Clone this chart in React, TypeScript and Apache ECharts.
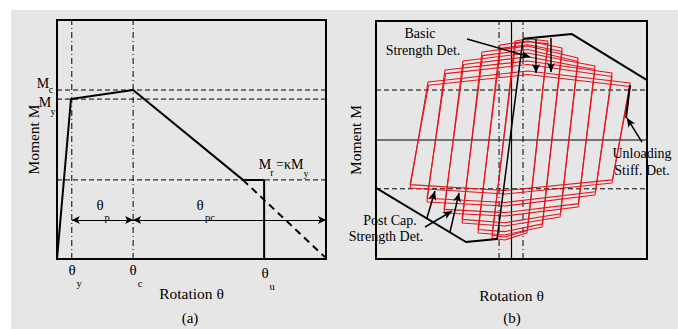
import React, { useEffect, useRef } from "react";
import * as echarts from "echarts";

// ---------- Panel (a): backbone curve (normalised rotation 0..10, moment 0..10)
const aTheta = [0, 0.52, 2.83, 6.91, 7.7, 7.7];
const aMoment = [0, 6.69, 7.07, 3.31, 3.31, 0];
const aDashTheta = [6.91, 9.96];
const aDashMoment = [3.31, 0.08];
const aThetaRefs = [0.55, 2.83]; // theta_y, theta_c
const aMomentRefs = [7.07, 6.69, 3.31]; // Mc, My, Mr
const aArrowMoment = 1.63;
const aArrowTheta = [0.55, 2.83, 10];

// ---------- Panel (b): envelope and hysteresis (normalised -1..1)
const bTopTheta = [0.085, 0.446, 1.0];
const bTopMoment = [0.85, 0.89, 0.504];
const bBotTheta = [-1.0, -0.336, -0.107];
const bBotMoment = [-0.403, -0.857, -0.832];
const bElasticTheta = [-0.107, 0.085];
const bElasticMoment = [-0.84, 0.85];
const bDashDotTheta = [-0.092, 0.085];
const bDashedMoment = [0.42, -0.41];

// each loop: BL, TL, TP, TR, BR, BP, BL
const loopTheta = [
  [-0.749, -0.616, 0.12, 0.875, 0.742, -0.05, -0.749],
  [-0.749, -0.612, 0.12, 0.875, 0.745, -0.05, -0.749],
  [-0.624, -0.491, 0.12, 0.742, 0.616, -0.05, -0.624],
  [-0.624, -0.487, 0.12, 0.742, 0.62, -0.05, -0.624],
  [-0.498, -0.358, 0.12, 0.616, 0.491, -0.05, -0.498],
  [-0.498, -0.354, 0.12, 0.616, 0.495, -0.05, -0.498],
  [-0.365, -0.218, 0.12, 0.491, 0.358, -0.05, -0.365],
  [-0.365, -0.214, 0.12, 0.491, 0.362, -0.05, -0.365],
  [-0.247, -0.085, 0.12, 0.373, 0.225, -0.05, -0.247],
  [-0.247, -0.081, 0.12, 0.373, 0.229, -0.05, -0.247],
  [-0.144, 0.026, 0.12, 0.269, 0.114, -0.05, -0.144],
  [-0.144, 0.03, 0.12, 0.269, 0.118, -0.05, -0.144],
];
const loopMoment = [
  [-0.403, 0.487, 0.58, 0.479, -0.361, -0.454, -0.403],
  [-0.375, 0.46, 0.55, 0.45, -0.335, -0.425, -0.375],
  [-0.521, 0.588, 0.664, 0.563, -0.462, -0.555, -0.521],
  [-0.49, 0.558, 0.634, 0.533, -0.435, -0.525, -0.49],
  [-0.613, 0.664, 0.731, 0.622, -0.563, -0.639, -0.613],
  [-0.583, 0.634, 0.7, 0.592, -0.535, -0.61, -0.583],
  [-0.697, 0.739, 0.79, 0.689, -0.647, -0.723, -0.697],
  [-0.667, 0.709, 0.76, 0.659, -0.62, -0.695, -0.667],
  [-0.782, 0.798, 0.832, 0.773, -0.731, -0.798, -0.782],
  [-0.752, 0.77, 0.8, 0.743, -0.705, -0.77, -0.752],
  [-0.824, 0.832, 0.849, 0.832, -0.782, -0.84, -0.824],
  [-0.8, 0.81, 0.825, 0.81, -0.76, -0.815, -0.8],
];

// annotation arrows in panel (b): [theta0, M0, theta1, M1]
const bArrows = [
  [-0.328, 0.849, 0.137, 0.697],
  [0.181, 0.849, 0.181, 0.563],
  [0.292, 0.857, 0.292, 0.571],
  [0.963, -0.017, 0.852, 0.185],
  [-0.638, -0.731, -0.439, -0.597],
  [-0.624, -0.655, -0.565, -0.429],
  [-0.454, -0.773, -0.387, -0.445],
];
const bUnloadTheta = [0.875, 0.845];
const bUnloadMoment = [0.462, 0.185];

const FONT = '"Liberation Serif", "DejaVu Serif", serif';
const RED = "#e8131b";

const zip = (xs: number[], ys: number[]) => xs.map((x, i) => [x, ys[i]]);

function lineSeries(idx: number, pts: number[][], style: any, z = 3, extra: any = {}) {
  return {
    type: "line",
    xAxisIndex: idx,
    yAxisIndex: idx,
    data: pts,
    symbol: "none",
    showSymbol: false,
    clip: false,
    silent: true,
    z,
    lineStyle: { color: "#000", width: 1, ...style },
    ...extra,
  };
}

function txt(x: number, y: number, text: string, size = 14, align = "center") {
  return {
    type: "text",
    x,
    y,
    z: 50,
    silent: true,
    style: { text, fill: "#000", font: `${size}px ${FONT}`, align, verticalAlign: "middle" },
  };
}

const DASH = [5, 3];
const DASHDOT = [6, 3, 1, 3];

function buildOption() {
  const series: any[] = [];
  // ---- panel (a)
  series.push(
    lineSeries(0, zip(aTheta, aMoment), { width: 2 }, 5, {
      markLine: {
        silent: true,
        symbol: ["arrow", "arrow"],
        symbolSize: [6, 8],
        label: { show: false },
        lineStyle: { color: "#000", width: 1, type: "solid" },
        data: [
          [{ coord: [aArrowTheta[0], aArrowMoment] }, { coord: [aArrowTheta[1], aArrowMoment] }],
          [{ coord: [aArrowTheta[1], aArrowMoment] }, { coord: [aArrowTheta[2], aArrowMoment] }],
        ],
      },
    })
  );
  series.push(lineSeries(0, zip(aDashTheta, aDashMoment), { width: 2, type: [7, 5] }, 5));
  aMomentRefs.forEach((m) => series.push(lineSeries(0, [[0, m], [10, m]], { type: DASH }, 2)));
  aThetaRefs.forEach((t) => series.push(lineSeries(0, [[t, 0], [t, 10]], { type: DASHDOT }, 2)));

  // ---- panel (b)
  loopTheta.forEach((lt, i) =>
    series.push(lineSeries(1, zip(lt, loopMoment[i]), { color: RED, width: 1.1 }, 3))
  );
  series.push(lineSeries(1, [[-1, 0], [1, 0]], { width: 1.2 }, 2));
  series.push(lineSeries(1, [[0, -1], [0, 1]], { width: 1.2 }, 2));
  bDashDotTheta.forEach((t) => series.push(lineSeries(1, [[t, -1], [t, 1]], { type: DASHDOT }, 2)));
  bDashedMoment.forEach((m) => series.push(lineSeries(1, [[-1, m], [1, m]], { type: DASH }, 2)));
  series.push(lineSeries(1, zip(bTopTheta, bTopMoment), { width: 2 }, 5));
  series.push(lineSeries(1, zip(bBotTheta, bBotMoment), { width: 2 }, 5));
  series.push(lineSeries(1, zip(bElasticTheta, bElasticMoment), { width: 1.5 }, 5));
  series.push(
    lineSeries(1, zip(bUnloadTheta, bUnloadMoment), { width: 2 }, 5, {
      markLine: {
        silent: true,
        symbol: ["none", "arrow"],
        symbolSize: [6, 9],
        label: { show: false },
        lineStyle: { color: "#000", width: 1.5, type: "solid" },
        data: bArrows.map((a) => [{ coord: [a[0], a[1]] }, { coord: [a[2], a[3]] }]),
      },
    })
  );

  const hiddenAxis = {
    type: "value",
    axisLine: { show: false },
    axisTick: { show: false },
    axisLabel: { show: false },
    splitLine: { show: false },
    nameLocation: "middle",
    nameTextStyle: { fontFamily: FONT, fontSize: 15.5, color: "#000" },
  };

  return {
    animation: false,
    backgroundColor: "#ffffff",
    grid: [
      { left: 57, top: 20, width: 269, height: 239, show: true, borderColor: "#000", borderWidth: 2, backgroundColor: "transparent" },
      { left: 376, top: 21, width: 271, height: 238, show: true, borderColor: "#000", borderWidth: 2, backgroundColor: "transparent" },
    ],
    xAxis: [
      { ...hiddenAxis, gridIndex: 0, min: 0, max: 10, name: "Rotation θ", nameGap: 26 },
      { ...hiddenAxis, gridIndex: 1, min: -1, max: 1, name: "Rotation θ", nameGap: 28 },
    ],
    yAxis: [
      { ...hiddenAxis, gridIndex: 0, min: 0, max: 10, name: "Moment M", nameGap: 16, nameRotate: 90 },
      { ...hiddenAxis, gridIndex: 1, min: -1, max: 1, name: "Moment M", nameGap: 13, nameRotate: 90 },
    ],
    graphic: [
      { type: "rect", z: -100, silent: true, shape: { x: 11, y: 10, width: 667, height: 319 }, style: { fill: "#e6e6e6" } },
      // panel (a) labels
      txt(43, 83, "M"), txt(51, 89, "c", 10),
      txt(45, 102, "M"), txt(53, 111, "y", 10),
      txt(72, 270, "θ", 15), txt(79, 283, "y", 10.5),
      txt(133, 270, "θ", 15), txt(140, 283, "c", 10.5),
      txt(265, 273, "θ", 15), txt(272, 286, "u", 10.5),
      txt(100, 205, "θ", 15), txt(107, 217, "p", 10.5),
      txt(200, 205, "θ", 15), txt(210, 217, "pc", 10.5),
      txt(265, 164, "M"), txt(272, 172, "r", 10), txt(276, 164, "=κM", 14, "left"), txt(306, 173, "y", 10),
      txt(190, 318, "(a)", 15),
      // panel (b) labels
      txt(420, 33, "Basic"), txt(423, 50, "Strength Det."),
      txt(642, 153, "Unloading"), txt(642, 170, "Stiff. Det."),
      txt(390, 220, "Post Cap."), txt(386, 236, "Strength Det."),
      txt(512, 318, "(b)", 15),
    ],
    series,
  };
}

export default function App() {
  const ref = useRef<HTMLDivElement>(null);
  useEffect(() => {
    if (!ref.current) return;
    const chart = echarts.init(ref.current, null, { renderer: "svg" });
    chart.setOption(buildOption() as any);
    return () => chart.dispose();
  }, []);
  return (
    <div
      ref={ref}
      style={{ position: "absolute", left: 0, top: 0, width: 678, height: 329 }}
    />
  );
}
